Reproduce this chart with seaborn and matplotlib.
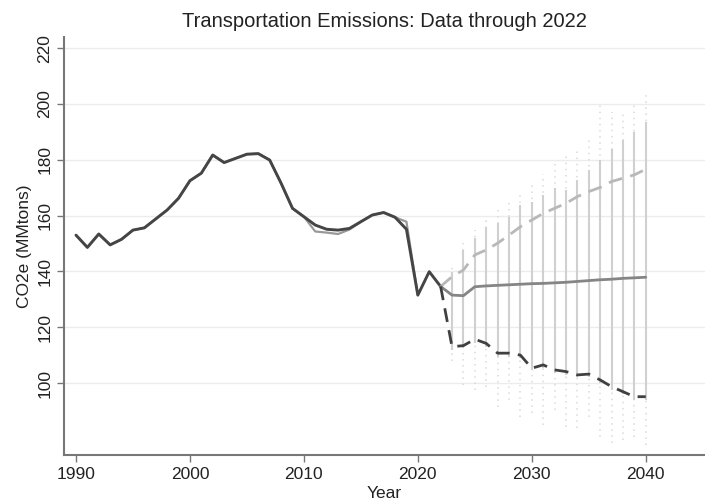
import numpy as np
import pandas as pd
import matplotlib
matplotlib.use("Agg")
import matplotlib.pyplot as plt
import seaborn as sns

# historical inventory (black) and earlier inventory (gray)
hist_years = list(range(1990, 2023))
hist = [153.0, 148.6, 153.4, 149.5, 151.5, 154.8, 155.6, 158.8, 162.0, 166.2,
        172.5, 175.2, 181.7, 179.0, 180.5, 182.0, 182.2, 179.9, 171.6, 162.6,
        159.6, 156.6, 155.1, 154.8, 155.4, 157.8, 160.2, 161.1, 159.4, 155.1,
        131.5, 139.9, 134.6]
alt_years = list(range(1990, 2021))
alt = [153.0, 148.6, 153.4, 149.5, 151.5, 154.8, 155.6, 158.8, 162.0, 166.2,
       172.5, 175.2, 181.7, 179.0, 180.5, 182.0, 182.2, 179.9, 171.6, 162.6,
       159.6, 154.3, 153.9, 153.4, 155.0, 157.8, 160.2, 161.1, 159.4, 157.8,
       131.5]

# projections
proj_years = list(range(2022, 2041))
median = [134.6, 131.5, 131.3, 134.5, 134.8, 135.0, 135.2, 135.4, 135.6, 135.7,
          135.9, 136.1, 136.4, 136.7, 137.0, 137.2, 137.5, 137.7, 137.9]
upper = [134.6, 138.1, 140.5, 145.9, 147.7, 150.1, 153.0, 156.0, 158.4, 160.8,
         162.6, 164.4, 166.8, 168.6, 170.1, 172.2, 173.4, 174.6, 176.6]
lower = [134.6, 113.0, 113.4, 115.7, 114.2, 110.7, 110.7, 110.0, 105.3, 106.5,
         104.7, 104.1, 102.9, 103.2, 101.1, 98.7, 96.9, 95.1, 95.1]

# simulation spread per year
range_years = list(range(2023, 2041))
range_top = [139.9, 147.7, 151.9, 156.0, 157.2, 159.6, 163.8, 165.0, 167.4,
             170.0, 169.2, 172.8, 176.3, 180.0, 184.0, 187.0, 190.0, 193.7]
range_bottom = [112.0, 112.5, 114.5, 113.0, 109.5, 109.5, 109.0, 104.5, 105.5,
                103.5, 103.0, 102.0, 102.0, 100.0, 97.5, 96.0, 94.0, 94.0]
dots_top = [142, 150, 155, 160, 162, 165, 168, 172, 175, 180, 182, 184, 188,
            200, 197, 198, 200, 204]
dots_bottom = [108, 99.3, 97.5, 98.7, 91.5, 93.9, 88, 89.2, 85, 90.3, 84.4,
               83.8, 88, 80.8, 78.4, 79.6, 80.8, 77.8]

x_ticks = [1990, 2000, 2010, 2020, 2030, 2040]
y_ticks = [100, 120, 140, 160, 180, 200, 220]

sns.set_theme(style="white")
plt.rcParams['font.family'] = ['Liberation Sans Narrow', 'Liberation Sans', 'DejaVu Sans']

fig = plt.figure(figsize=(7.05, 5.04), dpi=100)
ax = fig.add_axes([0.0908, 0.0972, 0.9092, 0.8294])

for y in y_ticks:
    ax.axhline(y, color='#ececec', linewidth=1, zorder=0)

# faint simulation dots and the solid spread bars
ax.vlines(range_years, dots_bottom, dots_top, colors='#dadada', linewidth=1.1,
          linestyles=(0, (1, 3)), zorder=1)
ax.vlines(range_years, range_bottom, range_top, colors='#d0d0d0', linewidth=1.5,
          zorder=1)

hist_df = pd.DataFrame({'Year': hist_years, 'CO2e': hist})
alt_df = pd.DataFrame({'Year': alt_years, 'CO2e': alt})
proj_df = pd.DataFrame({'Year': proj_years, 'median': median,
                        'upper': upper, 'lower': lower})

sns.lineplot(data=alt_df, x='Year', y='CO2e', ax=ax, color='#999999',
             linewidth=1.6, zorder=2)
sns.lineplot(data=hist_df, x='Year', y='CO2e', ax=ax, color='#454545',
             linewidth=2.1, zorder=3)
sns.lineplot(data=proj_df, x='Year', y='upper', ax=ax, color='#b8b8b8',
             linewidth=2, zorder=3).lines[-1].set_dashes((5, 3))
sns.lineplot(data=proj_df, x='Year', y='median', ax=ax, color='#858585',
             linewidth=2, zorder=3)
sns.lineplot(data=proj_df, x='Year', y='lower', ax=ax, color='#404040',
             linewidth=2, zorder=3).lines[-1].set_dashes((5, 3))

ax.set_xlim(1988.95, 2045.2)
ax.set_ylim(74.2, 224)
ax.set_xticks(x_ticks)
ax.set_yticks(y_ticks)
ax.tick_params(axis='both', direction='out', length=5, width=1, color='#777777',
               labelsize=12.5, labelcolor='#222222', left=True, bottom=True)
plt.setp(ax.get_yticklabels(), rotation=90, va='center')

for side in ['top', 'right']:
    ax.spines[side].set_visible(False)
for side in ['left', 'bottom']:
    ax.spines[side].set_color('#777777')
    ax.spines[side].set_linewidth(1.5)

ax.set_xlabel('Year', fontsize=12.5, color='#222222', labelpad=3)
ax.set_ylabel('CO2e (MMtons)', fontsize=12.5, color='#222222', labelpad=4)
ax.set_title('Transportation Emissions: Data through 2022', fontsize=14.5,
             color='#222222', pad=7)

fig.savefig('out.png', dpi=100)
